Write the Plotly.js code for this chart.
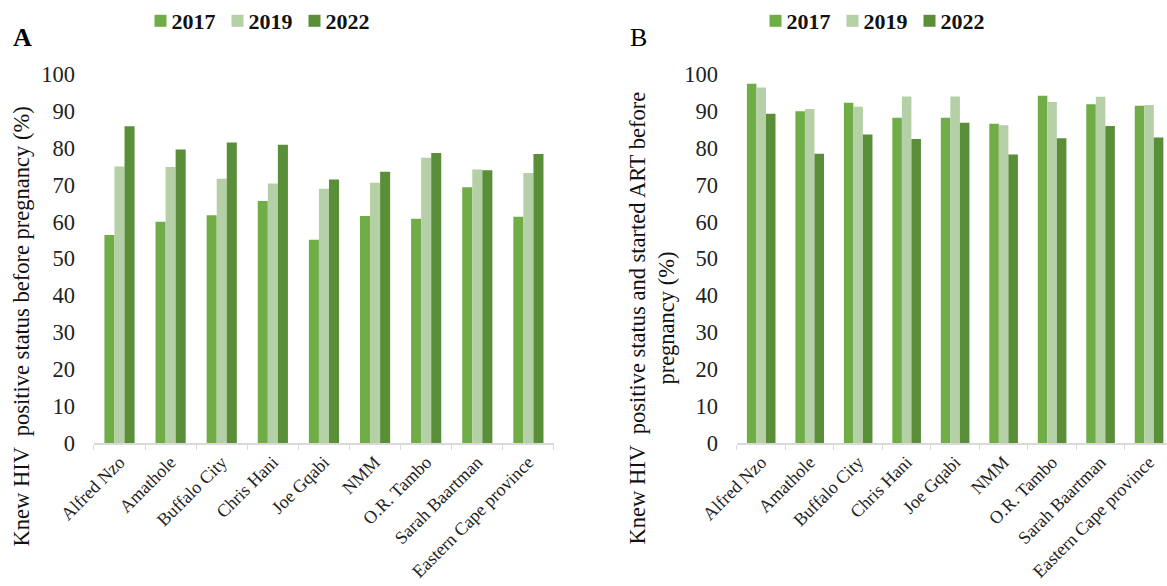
<!DOCTYPE html>
<html>
<head>
<meta charset="utf-8">
<script src="https://cdn.plot.ly/plotly-3.0.1.min.js"></script>
<style>html,body{margin:0;padding:0;background:#fff;}#chart{width:1167px;height:586px;}</style>
</head>
<body>
<div id="chart"></div>
<script>
const categories = ["Alfred Nzo", "Amathole", "Buffalo City", "Chris Hani", "Joe Gqabi", "NMM", "O.R. Tambo", "Sarah Baartman", "Eastern Cape province"];
const years = ["2017", "2019", "2022"];
const a2017 = [56.4, 60.0, 61.7, 65.6, 55.1, 61.5, 60.8, 69.3, 61.3];
const a2019 = [74.9, 74.8, 71.6, 70.3, 68.9, 70.5, 77.3, 74.1, 73.2];
const a2022 = [85.8, 79.5, 81.4, 80.8, 71.4, 73.5, 78.6, 73.9, 78.3];
const b2017 = [97.3, 89.9, 92.2, 88.1, 88.1, 86.5, 94.1, 91.8, 91.4];
const b2019 = [96.3, 90.5, 91.1, 93.9, 93.9, 86.1, 92.4, 93.8, 91.6];
const b2022 = [89.2, 78.4, 83.6, 82.4, 86.8, 78.2, 82.6, 85.9, 82.8];
const colors = ["#70ad47", "#b5cfa6", "#5b8e39"];

const serif = "'Liberation Serif', 'Times New Roman', serif";
const seriesA = [a2017, a2019, a2022];
const seriesB = [b2017, b2019, b2022];
const traces = [];
seriesA.forEach((v, i) => traces.push({
  type: "bar", x: categories, y: v, name: years[i], xaxis: "x", yaxis: "y",
  marker: {color: colors[i]}, legend: "legend"
}));
seriesB.forEach((v, i) => traces.push({
  type: "bar", x: categories, y: v, name: years[i], xaxis: "x2", yaxis: "y2",
  marker: {color: colors[i]}, legend: "legend2"
}));

const xcommon = {
  type: "category", showline: true, linecolor: "#d9d9d9", linewidth: 1.3,
  ticks: "outside", tickson: "boundaries", ticklen: 5, tickcolor: "#d9d9d9",
  tickangle: -45, tickfont: {family: serif, size: 18, color: "#222"},
  showgrid: false, zeroline: false, fixedrange: true
};
const ycommon = {
  range: [0, 100], dtick: 10, showgrid: false, zeroline: false, showline: false,
  ticks: "", ticklabelstandoff: 18, tickfont: {family: serif, size: 22.5, color: "#222"}
};
const legendCommon = {
  orientation: "h", xanchor: "center", yanchor: "middle", y: 0.966,
  font: {family: serif, size: 22, color: "#111", weight: "bold"},
  itemwidth: 30, entrywidth: 32, traceorder: "normal", bgcolor: "rgba(0,0,0,0)", tracegroupgap: 0
};

const layout = {
  width: 1167, height: 586,
  margin: {l: 0, r: 0, t: 0, b: 0},
  paper_bgcolor: "#fff", plot_bgcolor: "#fff",
  barmode: "group", bargap: 0.41, bargroupgap: 0,
  xaxis: Object.assign({}, xcommon, {domain: [0.0805, 0.4747], range: [-0.5, 8.5], anchor: "y"}),
  yaxis: Object.assign({}, ycommon, {domain: [0.244, 0.8754], anchor: "x"}),
  xaxis2: Object.assign({}, xcommon, {domain: [0.6315, 1.0], range: [-0.5, 8.37], anchor: "y2"}),
  yaxis2: Object.assign({}, ycommon, {domain: [0.244, 0.8754], anchor: "x2"}),
  showlegend: true,
  legend: Object.assign({}, legendCommon, {x: 247/1167}),
  legend2: Object.assign({}, legendCommon, {x: 862/1167}),
  annotations: [
    {text: "<b>A</b>", xref: "paper", yref: "paper", x: 22/1167, y: 1 - 37/586, showarrow: false,
     font: {family: serif, size: 26, color: "#000"}, xanchor: "center", yanchor: "middle"},
    {text: "B", xref: "paper", yref: "paper", x: 638/1167, y: 1 - 37/586, showarrow: false,
     font: {family: serif, size: 26, color: "#000"}, xanchor: "center", yanchor: "middle"},
    {text: "Knew HIV  positive status before pregnancy (%)", xref: "paper", yref: "paper",
     x: 21/1167, y: 1 - 326/586, textangle: -90, showarrow: false,
     font: {family: serif, size: 22.5, color: "#111"}, xanchor: "center", yanchor: "middle"},
    {text: "Knew HIV  positive status and started ART before<br>pregnancy (%)", xref: "paper", yref: "paper",
     x: 652/1167, y: 1 - 318/586, textangle: -90, showarrow: false, align: "center",
     font: {family: serif, size: 22.5, color: "#111"}, xanchor: "center", yanchor: "middle"}
  ]
};

Plotly.newPlot("chart", traces, layout, {displayModeBar: false, staticPlot: true}).then(function (gd) {
  // compact legend: let last label overflow its entry box and bring the swatches closer to their labels
  gd.querySelectorAll("g.legend, g.legend2, g.legend .scrollbox, g.legend2 .scrollbox").forEach(function (el) {
    el.removeAttribute("clip-path");
    el.style.clipPath = "none";
  });
  gd.querySelectorAll("g.legend g.legendpoints, g.legend2 g.legendpoints").forEach(function (el) {
    el.setAttribute("transform", "translate(9,0)");
  });
});
</script>
</body>
</html>
